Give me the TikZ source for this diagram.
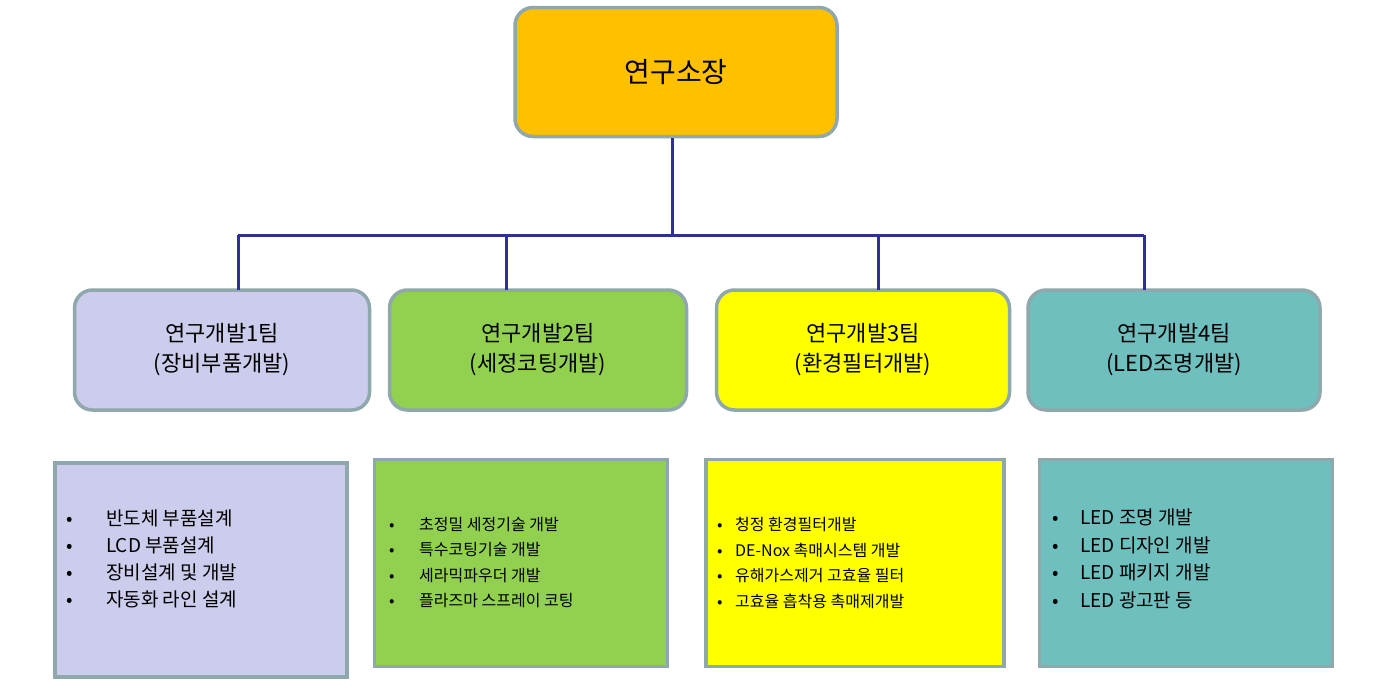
\documentclass[tikz,border=0pt]{standalone}
\usepackage{fontspec}
\setmainfont{Noto Sans CJK KR}
\begin{document}
\begin{tikzpicture}[x=1pt,y=-1pt,
  team/.style={draw=bordc,line width=3.5pt,rounded corners=18pt,inner sep=0pt,align=center,font=\fontsize{22}{30}\selectfont},
  list/.style={draw=bordc,line width=3.5pt,inner sep=0pt},
  conn/.style={draw=linec,line width=3pt},
  bl/.style={anchor=north west,align=left,inner sep=0pt}]
\definecolor{bordc}{HTML}{8FA8AC}
\definecolor{linec}{HTML}{2E3192}
\useasboundingbox (0,0) rectangle (1377,694);
\fill[white] (0,0) rectangle (1377,694);
\node[team,fill={rgb,255:red,255;green,192;blue,0},minimum width=322pt,minimum height=129pt,font=\fontsize{28}{34}\selectfont] (top) at (676,72) {연구소장};
\node[team,fill={rgb,255:red,204;green,204;blue,236},minimum width=295pt,minimum height=120pt] (t1) at (222,350) {연구개발1팀\\(장비부품개발)};
\node[team,fill={rgb,255:red,146;green,208;blue,80},minimum width=297pt,minimum height=120pt] (t2) at (538,350) {연구개발2팀\\(세정코팅개발)};
\node[team,fill={rgb,255:red,255;green,255;blue,0},minimum width=293pt,minimum height=120pt] (t3) at (863,350) {연구개발3팀\\(환경필터개발)};
\node[team,fill={rgb,255:red,111;green,191;blue,191},minimum width=292pt,minimum height=120pt] (t4) at (1174,350) {연구개발4팀\\(LED조명개발)};
\coordinate (hub) at (672,235);
\draw[conn] (top.south -| hub) -- (hub);
\draw[conn] (238,235) -- (1144,235);
\draw[conn] (238,235) -- (238,290);
\draw[conn] (506,235) -- (506,290);
\draw[conn] (878,235) -- (878,290);
\draw[conn] (1144,235) -- (1144,290);
\node[list,fill={rgb,255:red,204;green,204;blue,236},minimum width=292pt,minimum height=214pt] (l1) at (201,570) {};
\node[list,fill={rgb,255:red,146;green,208;blue,80},minimum width=293pt,minimum height=207pt] (l2) at (521,563) {};
\node[list,fill={rgb,255:red,255;green,255;blue,0},minimum width=298pt,minimum height=207pt] (l3) at (855,563) {};
\node[list,fill={rgb,255:red,111;green,191;blue,191},minimum width=293pt,minimum height=207pt] (l4) at (1186,563) {};
\node[bl,font=\fontsize{19}{27}\selectfont] (b1) at (66,510) {\makebox[40pt][l]{•}반도체 부품설계\\\makebox[40pt][l]{•}LCD 부품설계\\\makebox[40pt][l]{•}장비설계 및 개발\\\makebox[40pt][l]{•}자동화 라인 설계};
\node[bl,font=\fontsize{16}{25.5}\selectfont] (b2) at (389,517) {\makebox[30pt][l]{•}초정밀 세정기술 개발\\\makebox[30pt][l]{•}특수코팅기술 개발\\\makebox[30pt][l]{•}세라믹파우더 개발\\\makebox[30pt][l]{•}플라즈마 스프레이 코팅};
\node[bl,font=\fontsize{16}{25.5}\selectfont] (b3) at (717,517) {\makebox[18pt][l]{•}청정 환경필터개발\\\makebox[18pt][l]{•}DE-Nox 촉매시스템 개발\\\makebox[18pt][l]{•}유해가스제거 고효율 필터\\\makebox[18pt][l]{•}고효율 흡착용 촉매제개발};
\node[bl,font=\fontsize{19}{27.5}\selectfont] (b4) at (1052,509) {\makebox[28pt][l]{•}LED 조명 개발\\\makebox[28pt][l]{•}LED 디자인 개발\\\makebox[28pt][l]{•}LED 패키지 개발\\\makebox[28pt][l]{•}LED 광고판 등};
\end{tikzpicture}
\end{document}
